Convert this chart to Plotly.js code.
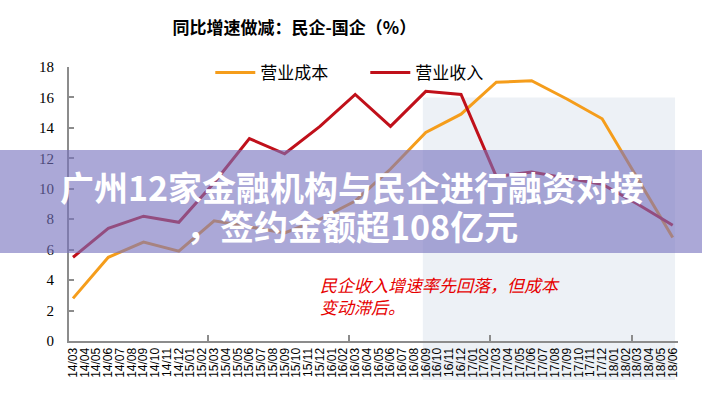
<!DOCTYPE html>
<html>
<head>
<meta charset="utf-8">
<script src="https://cdn.plot.ly/plotly-3.0.1.min.js"></script>
<style>html,body{margin:0;padding:0;background:#fff;}#chart{width:702px;height:404px;}</style>
</head>
<body>
<div id="chart"></div>
<script>
// Monthly category labels on the x axis
const months = [
  '14/03','14/04','14/05','14/06','14/07','14/08','14/09','14/10','14/11','14/12',
  '15/01','15/02','15/03','15/04','15/05','15/06','15/07','15/08','15/09','15/10','15/11','15/12',
  '16/01','16/02','16/03','16/04','16/05','16/06','16/07','16/08','16/09','16/10','16/11','16/12',
  '17/01','17/02','17/03','17/04','17/05','17/06','17/07','17/08','17/09','17/10','17/11','17/12',
  '18/01','18/02','18/03','18/04','18/05','18/06'
];
// Quarterly observation dates
const quarters = ['14/03','14/06','14/09','14/12','15/03','15/06','15/09','15/12',
  '16/03','16/06','16/09','16/12','17/03','17/06','17/09','17/12','18/03','18/06'];
// 营业成本 growth gap (private - state), %
const costGap = [2.8, 5.5, 6.5, 5.9, 7.9, 7.5, 7.1, 8.0, 9.2, 11.3, 13.7, 14.9, 17.0, 17.1, 15.9, 14.6, 10.7, 6.8];
// 营业收入 growth gap (private - state), %
const revenueGap = [5.5, 7.4, 8.2, 7.8, 10.4, 13.3, 12.3, 14.1, 16.2, 14.1, 16.4, 16.2, 10.8, 11.1, 10.7, 10.3, 9.0, 7.6];
// Highlighted period
const shadeStart = '16/09';
const shadeEnd = '18/06';
const shadeTop = 16;

const seriesNames = ['营业成本', '营业收入'];
const titleText = '同比增速做减：民企-国企（%）';
const noteText = '民企收入增速率先回落，但成本<br>变动滞后。';
const bannerLines = ['广州12家金融机构与民企进行融资对接', '，签约金额超108亿元'];

const idx = m => months.indexOf(m);
const yearTicks = months.map((m, i) => (m.endsWith('/03') && i > 0) ? i - 0.5 : null).filter(v => v !== null);
const xRange = [-0.34, 51.45];
const axisGrey = '#8c8c8c';

const traces = [
  {x: quarters, y: costGap, name: seriesNames[0], type: 'scatter', mode: 'lines',
   line: {color: '#f59d1b', width: 3}},
  {x: quarters, y: revenueGap, name: seriesNames[1], type: 'scatter', mode: 'lines',
   line: {color: '#c0101a', width: 3}},
  {x: [], y: [], xaxis: 'x2', showlegend: false, hoverinfo: 'skip'}
];

const layout = {
  width: 702, height: 404,
  margin: {l: 69, r: 24, t: 67, b: 63},
  paper_bgcolor: '#ffffff', plot_bgcolor: 'rgba(0,0,0,0)',
  showlegend: true,
  title: {text: '<b>' + titleText + '</b>', font: {family: 'Noto Sans CJK SC', size: 17, color: '#000'},
          xref: 'paper', x: 0.37, xanchor: 'center', yref: 'container', y: 0.93, yanchor: 'middle'},
  legend: {orientation: 'h', x: 0.232, xanchor: 'left', y: 0.978, yanchor: 'middle',
           font: {family: 'Noto Sans CJK SC', size: 17, color: '#000'}, bgcolor: 'rgba(0,0,0,0)',
           itemwidth: 40, entrywidth: 100, entrywidthmode: 'pixels'},
  xaxis: {type: 'category', categoryorder: 'array', categoryarray: months, range: xRange,
          tickmode: 'array', tickvals: months, ticktext: months,
          showline: true, linecolor: axisGrey, linewidth: 2, ticks: '', tickangle: -90,
          tickfont: {family: 'Liberation Sans', size: 12, color: '#000'},
          showgrid: false, zeroline: false, fixedrange: true},
  xaxis2: {overlaying: 'x', anchor: 'y', side: 'bottom', type: 'linear', range: xRange,
           tickmode: 'array', tickvals: yearTicks, ticks: 'inside', ticklen: 6, tickwidth: 2,
           tickcolor: axisGrey, showticklabels: false, showline: false, showgrid: false, zeroline: false},
  yaxis: {range: [0, 18], dtick: 2, tick0: 0, ticks: 'inside', ticklen: 5, tickwidth: 2, tickcolor: axisGrey,
          showline: true, linecolor: axisGrey, linewidth: 2, showgrid: false, zeroline: false,
          tickfont: {family: 'Liberation Serif', size: 15, color: '#000'}, ticklabelstandoff: 10, fixedrange: true},
  shapes: [
    {type: 'rect', layer: 'below', xref: 'x', yref: 'paper',
     x0: idx(shadeStart) - 0.25, x1: idx(shadeEnd) + 0.2, y0: -0.142, y1: shadeTop / 18,
     fillcolor: '#edf1f6', line: {width: 0}},
    {type: 'rect', layer: 'above', xref: 'paper', yref: 'paper',
     x0: -0.12, x1: 1.05, y0: 0.321, y1: 0.697,
     fillcolor: 'rgba(120,115,190,0.62)', line: {width: 0}}
  ],
  annotations: [
    {text: noteText, xref: 'paper', yref: 'paper', x: 0.409, y: 0.258, xanchor: 'left', yanchor: 'top',
     align: 'left', showarrow: false, font: {family: 'Noto Sans CJK SC', size: 17, color: '#e60000', style: 'italic'}},
    {text: '<b>' + bannerLines[0] + '</b>', xref: 'paper', yref: 'paper', x: 0.464, y: 0.565,
     xanchor: 'center', yanchor: 'middle', align: 'center', showarrow: false,
     font: {family: 'Noto Sans CJK SC', size: 34, color: '#ffffff'}},
    {text: '<b>' + bannerLines[1] + '</b>', xref: 'paper', yref: 'paper', x: 0.464, y: 0.423,
     xanchor: 'center', yanchor: 'middle', align: 'center', showarrow: false,
     font: {family: 'Noto Sans CJK SC', size: 34, color: '#ffffff'}}
  ]
};

Plotly.newPlot('chart', traces, layout, {staticPlot: true, displayModeBar: false});
</script>
</body>
</html>
